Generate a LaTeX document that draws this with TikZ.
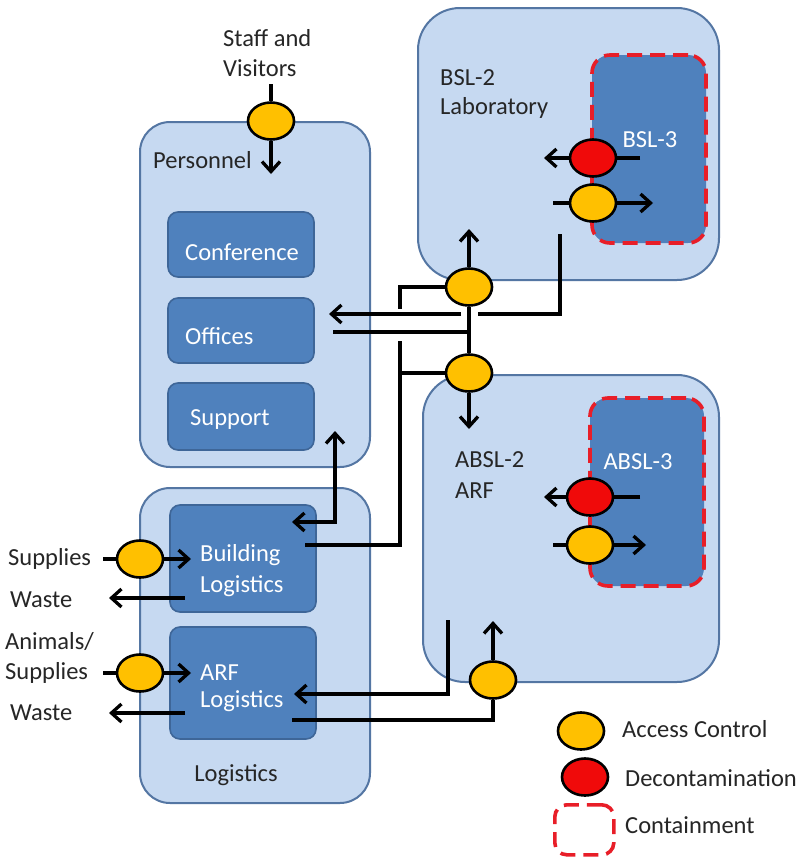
\documentclass[tikz,border=0pt]{standalone}
\usepackage{fontspec}
\setmainfont{Carlito}
\usetikzlibrary{arrows.meta,shapes.geometric}
\definecolor{lightbox}{RGB}{198,217,241}
\definecolor{lightedge}{RGB}{84,118,163}
\definecolor{darkbox}{RGB}{79,129,189}
\definecolor{darkedge}{RGB}{62,102,152}
\definecolor{acc}{RGB}{255,192,0}
\definecolor{decon}{RGB}{240,10,10}
\definecolor{contain}{RGB}{232,30,40}
\begin{document}
\begin{tikzpicture}[x=1pt,y=-1pt,
  font=\fontsize{24.5}{28}\selectfont,
  zone/.style={draw=lightedge,fill=lightbox,line width=2pt,rounded corners=#1,anchor=north west,inner sep=0pt,outer sep=0pt},
  room/.style={draw=darkedge,fill=darkbox,line width=1.6pt,rounded corners=10pt,anchor=north west,inner sep=0pt,outer sep=0pt},
  contained/.style={draw=contain,fill=darkbox,line width=3.6pt,dash pattern=on 15pt off 8pt,rounded corners=18pt,anchor=north west,inner sep=0pt,outer sep=0pt},
  gate/.style={ellipse,draw=black,line width=2.6pt,fill=acc,minimum width=46pt,minimum height=37pt,inner sep=0pt},
  decongate/.style={gate,fill=decon},
  wire/.style={line width=3.3pt,black},
  flow/.style={wire,-{Straight Barb[length=10pt,width=18pt]}},
  twoway/.style={wire,{Straight Barb[length=10pt,width=18pt]}-{Straight Barb[length=10pt,width=18pt]}},
  lbl/.style={text=black!85,inner sep=0pt,align=left},
  wlbl/.style={text=white,inner sep=0pt,align=left}
]
\useasboundingbox (0,0) rectangle (805,857);
\fill[white] (0,0) rectangle (805,857);

% zones
\node[zone=30pt,minimum width=230pt,minimum height=345pt] (pers) at (140,122) {};
\node[zone=30pt,minimum width=230pt,minimum height=315pt] (logi) at (140,488) {};
\node[zone=42pt,minimum width=301pt,minimum height=272pt] (bsl2) at (418,8) {};
\node[zone=42pt,minimum width=296pt,minimum height=307pt] (absl2) at (423,375) {};

% rooms
\node[room,minimum width=146pt,minimum height=65pt] (conf) at (168,212) {};
\node[room,minimum width=146pt,minimum height=65pt] (offi) at (168,298) {};
\node[room,minimum width=146pt,minimum height=67pt] (supp) at (168,383) {};
\node[room,minimum width=146pt,minimum height=107pt] (blog) at (170,505) {};
\node[room,minimum width=146pt,minimum height=112pt] (alog) at (170,627) {};
\node[contained,minimum width=114pt,minimum height=188pt] (bsl3) at (592,55) {};
\node[contained,minimum width=114pt,minimum height=188pt] (absl3) at (590,398) {};

% labels
\node[wlbl] (tconf) at (242,252) {Conference};
\node[wlbl,anchor=west] (toffi) at (185,336) {Offices};
\node[wlbl,anchor=west] (tsupp) at (190,420) {Support};
\node[wlbl,anchor=west] (tblog1) at (200,555) {Building};
\node[wlbl,anchor=west] (tblog2) at (200,586) {Logistics};
\node[wlbl,anchor=west] (talog1) at (200,673) {ARF};
\node[wlbl,anchor=west] (talog2) at (200,701) {Logistics};
\node[wlbl] (tbsl3) at (650,140) {BSL-3};
\node[wlbl] (tabsl3) at (638,462) {ABSL-3};
\node[lbl,anchor=west] (tpers) at (153,160) {Personnel};
\node[lbl] (tlogi) at (236,775) {Logistics};
\node[lbl,anchor=west] (tbsl2a) at (440,78) {BSL-2};
\node[lbl,anchor=west] (tbsl2b) at (440,108) {Laboratory};
\node[lbl,anchor=west] (tabsl2a) at (455,460) {ABSL-2};
\node[lbl,anchor=west] (tabsl2b) at (455,491) {ARF};
\node[lbl,anchor=west] (tstaff1) at (223,38) {Staff and};
\node[lbl,anchor=west] (tstaff2) at (223,68) {Visitors};
\node[lbl,anchor=west] (tsup) at (8,559) {Supplies};
\node[lbl,anchor=west] (twaste1) at (10,600) {Waste};
\node[lbl,anchor=west] (tanim1) at (5,642) {Animals/};
\node[lbl,anchor=west] (tanim2) at (5,673) {Supplies};
\node[lbl,anchor=west] (twaste2) at (10,713) {Waste};
\node[lbl,anchor=west] (tacc) at (622,729) {Access Control};
\node[lbl,anchor=west] (tdec) at (625,778) {Decontamination};
\node[lbl,anchor=west] (tcon) at (625,825) {Containment};

% coordinates
\coordinate (st1) at (271,84);
\coordinate (st2) at (271,174);
\coordinate (bslin) at (469,229);
\coordinate (j1) at (400,287);
\coordinate (j1e) at (400,309);
\coordinate (bslout) at (560,234);
\coordinate (r1) at (560,314);
\coordinate (r2) at (478,314);
\coordinate (r3) at (461,314);
\coordinate (offin) at (329,314);
\coordinate (offout) at (333,332);
\coordinate (r4) at (469,332);
\coordinate (absin) at (469,429);
\coordinate (j2) at (400,373);
\coordinate (j3) at (400,341);
\coordinate (bl1) at (400,545);
\coordinate (blout) at (305,545);
\coordinate (supin) at (335,431);
\coordinate (sb) at (335,522);
\coordinate (blin) at (292,522);
\coordinate (absout) at (448,620);
\coordinate (a1) at (448,694);
\coordinate (arfin) at (294,694);
\coordinate (arfout) at (292,720);
\coordinate (a2) at (493,720);
\coordinate (absin2) at (493,621);
\coordinate (sup1) at (103,559);
\coordinate (blin2) at (191,559);
\coordinate (bw1) at (185,598);
\coordinate (bw2) at (109,598);
\coordinate (an1) at (103,673);
\coordinate (arfin2) at (191,673);
\coordinate (aw1) at (185,713);
\coordinate (aw2) at (109,713);
\coordinate (b3a) at (640,158);
\coordinate (b3b) at (544,158);
\coordinate (b3c) at (553,203);
\coordinate (b3d) at (653,203);
\coordinate (a3a) at (640,497);
\coordinate (a3b) at (544,497);
\coordinate (a3c) at (553,545);
\coordinate (a3d) at (646,545);

% gates
\node[gate] (cp) at (271,121) {};
\node[gate] (ct) at (469,287) {};
\node[gate] (cb) at (469,373) {};
\node[gate] (ca) at (493,680) {};
\node[gate] (cs) at (140,559) {};
\node[gate] (ca2) at (140,673) {};
\node[decongate] (d1) at (593,158) {};
\node[gate] (g1) at (593,203) {};
\node[decongate] (d2) at (590,497) {};
\node[gate] (g2) at (590,545) {};

% connectors
\draw[wire] (st1) -- (cp);
\draw[flow] (cp) -- (st2);
\draw[flow] (ct) -- (bslin);
\draw[wire] (ct) -- (j1) -- (j1e);
\draw[wire] (bslout) -- (r1) -- (r2);
\draw[flow] (r3) -- (offin);
\draw[wire] (ct) -- (cb);
\draw[wire] (offout) -- (r4);
\draw[flow] (cb) -- (absin);
\draw[wire] (cb) -- (j2);
\draw[wire] (j3) -- (bl1) -- (blout);
\draw[twoway] (supin) -- (sb) -- (blin);
\draw[flow] (absout) -- (a1) -- (arfin);
\draw[wire] (arfout) -- (a2) -- (ca);
\draw[flow] (ca) -- (absin2);
\draw[wire] (sup1) -- (cs);
\draw[flow] (cs) -- (blin2);
\draw[flow] (bw1) -- (bw2);
\draw[wire] (an1) -- (ca2);
\draw[flow] (ca2) -- (arfin2);
\draw[flow] (aw1) -- (aw2);
\draw[wire] (b3a) -- (d1);
\draw[flow] (d1) -- (b3b);
\draw[wire] (b3c) -- (g1);
\draw[flow] (g1) -- (b3d);
\draw[wire] (a3a) -- (d2);
\draw[flow] (d2) -- (a3b);
\draw[wire] (a3c) -- (g2);
\draw[flow] (g2) -- (a3d);

% legend
\node[gate] (lacc) at (581,731) {};
\node[decongate] (ldec) at (585,777) {};
\node[draw=contain,line width=3.6pt,dash pattern=on 15pt off 8pt,rounded corners=12pt,anchor=north west,inner sep=0pt,minimum width=59pt,minimum height=50pt] (lcon) at (553,803) {};
\end{tikzpicture}
\end{document}
